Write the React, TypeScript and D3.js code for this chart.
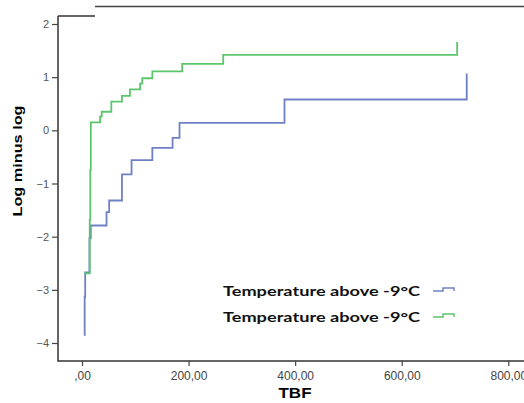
import React, { useEffect, useRef } from "react";
import * as d3 from "d3";

// step points: [TBF, log minus log]
const blueTimes = [4, 5, 6, 14, 16.5, 46, 51, 75, 93, 132, 170, 183, 380, 722];
const blueValues = [-3.85, -3.13, -2.67, -2.03, -1.79, -1.54, -1.32, -0.83, -0.56, -0.33, -0.14, 0.14, 0.58, 1.07];

const greenTimes = [4, 14.5, 15.5, 16.5, 34, 37, 55, 75, 90, 109, 113, 132, 188, 265, 704];
const greenValues = [-2.69, -1.69, -0.75, 0.15, 0.26, 0.35, 0.54, 0.65, 0.77, 0.88, 0.98, 1.11, 1.25, 1.42, 1.66];

const xTicks = [0, 200, 400, 600, 800];
const xTickLabels = [",00", "200,00", "400,00", "600,00", "800,00"];
const yTicks = [2, 1, 0, -1, -2, -3, -4];

const legendLabels = ["Temperature above -9°C", "Temperature above -9°C"];
const seriesColors = ["#6f81c6", "#5cc66c"];

export default function App() {
  const ref = useRef<SVGSVGElement>(null);

  useEffect(() => {
    const svg = d3.select(ref.current);
    svg.selectAll("*").remove();

    const x = d3.scaleLinear().domain([0, 800]).range([82, 508.3]);
    const y = d3.scaleLinear().domain([-4, 2]).range([343, 24]);
    const left = 58, bottom = 361, top = 16;

    // frame
    svg.append("path")
      .attr("d", `M${left},${top}V${bottom}H524`)
      .attr("fill", "none").attr("stroke", "#333").attr("stroke-width", 1.5);
    svg.append("path")
      .attr("d", `M${left},${top}H95`)
      .attr("fill", "none").attr("stroke", "#333").attr("stroke-width", 1.5);
    svg.append("path")
      .attr("d", `M95,6.5H524`)
      .attr("fill", "none").attr("stroke", "#444").attr("stroke-width", 1.5);

    // x axis
    const xa = svg.append("g")
      .attr("transform", `translate(0,${bottom})`)
      .call(d3.axisBottom(x).tickValues(xTicks).tickSize(5)
        .tickFormat((d, i) => xTickLabels[i]));
    xa.select(".domain").remove();
    xa.selectAll("line").attr("stroke", "#444").attr("stroke-width", 1.2);
    xa.selectAll("text").attr("fill", "#444").attr("font-size", 12)
      .attr("font-family", "Liberation Sans, Arial, sans-serif").attr("dy", "0.9em");

    // y axis
    const ya = svg.append("g")
      .attr("transform", `translate(${left},0)`)
      .call(d3.axisLeft(y).tickValues(yTicks).tickSize(6).tickPadding(3)
        .tickFormat(d3.format("d")));
    ya.select(".domain").remove();
    ya.selectAll("line").attr("stroke", "#444").attr("stroke-width", 1.2);
    ya.selectAll("text").attr("fill", "#555").attr("font-size", 11)
      .attr("font-family", "Liberation Sans, Arial, sans-serif");

    // axis titles
    svg.append("text")
      .attr("x", 295).attr("y", 398)
      .attr("text-anchor", "middle")
      .attr("font-family", "Liberation Sans, Arial, sans-serif")
      .attr("font-weight", "bold").attr("font-size", 14)
      .attr("textLength", 33).attr("lengthAdjust", "spacingAndGlyphs")
      .text("TBF");
    svg.append("text")
      .attr("transform", "translate(22,161) rotate(-90)")
      .attr("text-anchor", "middle")
      .attr("font-family", "Liberation Sans, Arial, sans-serif")
      .attr("font-weight", "bold").attr("font-size", 13)
      .attr("textLength", 111).attr("lengthAdjust", "spacingAndGlyphs")
      .text("Log minus log");

    // step lines
    const line = d3.line<[number, number]>()
      .x(d => x(d[0])).y(d => y(d[1]))
      .curve(d3.curveStepAfter);
    const series = [
      blueTimes.map((t, i) => [t, blueValues[i]] as [number, number]),
      greenTimes.map((t, i) => [t, greenValues[i]] as [number, number]),
    ];
    series.forEach((s, i) => {
      svg.append("path")
        .attr("d", line(s))
        .attr("fill", "none")
        .attr("stroke", seriesColors[i])
        .attr("stroke-width", 1.8);
    });

    // legend
    legendLabels.forEach((lab, i) => {
      const by = 296 + i * 26;
      svg.append("text")
        .attr("x", 223).attr("y", by)
        .attr("font-family", "Lato, sans-serif")
        .attr("font-weight", "bold").attr("font-size", 14)
        .attr("fill", "#111")
        .attr("textLength", 197).attr("lengthAdjust", "spacingAndGlyphs")
        .text(lab);
      const ly = by - 5;
      svg.append("path")
        .attr("d", `M433,${ly}H443V${ly - 3}H454V${ly}`)
        .attr("fill", "none")
        .attr("stroke", seriesColors[i])
        .attr("stroke-width", 1.5);
    });
  }, []);

  return (
    <svg ref={ref} width={524} height={403}
      style={{ position: "absolute", left: 0, top: 0, background: "#fff" }} />
  );
}
